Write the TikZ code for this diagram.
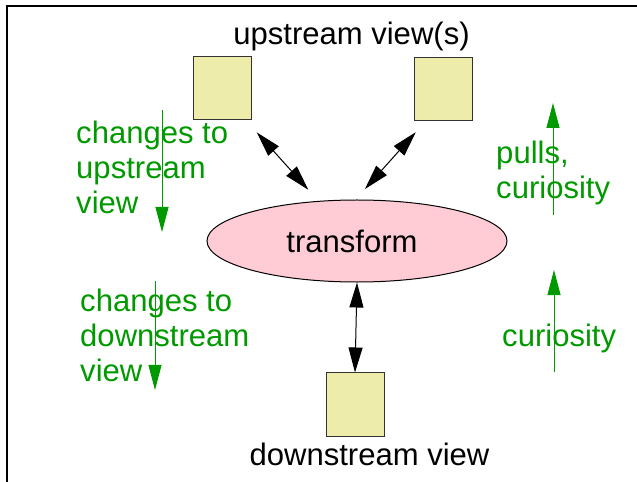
\documentclass[tikz,border=0pt]{standalone}
\usepackage{fontspec}
\setmainfont{Liberation Sans}
\usetikzlibrary{shapes.geometric,arrows.meta}
\definecolor{viewfill}{RGB}{238,236,170}
\definecolor{viewedge}{RGB}{51,51,51}
\definecolor{xformfill}{RGB}{255,204,214}
\definecolor{notegreen}{RGB}{0,153,0}
\begin{document}
\begin{tikzpicture}[x=0.03cm,y=0.03cm,
  view/.style={draw=viewedge,fill=viewfill,line width=0.03cm,minimum width=1.74cm,minimum height=1.89cm},
  xform/.style={ellipse,draw=black,fill=xformfill,line width=0.03cm,minimum width=9cm,minimum height=2.46cm},
  txt/.style={font=\fontsize{26.5}{29.9}\selectfont},
  note/.style={txt,text=notegreen,align=left,anchor=north west},
  link/.style={black,line width=0.03cm,{Triangle[length=0.75cm,width=0.42cm]}-{Triangle[length=0.75cm,width=0.42cm]}},
  flow/.style={notegreen,line width=0.03cm,-{Triangle[length=0.75cm,width=0.39cm]}}]
\tikzstyle{every node}+=[inner sep=0pt]
\useasboundingbox (0,0) rectangle (637,-482);
\draw [line width=0.06cm] (7,-482) -- (7,-6) -- (637,-6);
\node [view] (upl) at (222,-88.5) {};
\node [view] (upr) at (443.5,-89) {};
\node [view] (down) at (355,-404.5) {};
\node [xform] (tr) at (357,-241) {};
\node [txt] (trtxt) at (352,-241) {transform};
\node [txt,anchor=base] (uptxt) at (351.5,-45) {upstream view(s)};
\node [txt,anchor=base] (downtxt) at (369.5,-465) {downstream view};
\draw [link,shorten <=0.48cm,shorten >=0.45cm] (upl.307) -- (tr.134);
\draw [link,shorten <=0.45cm,shorten >=0.42cm] (upr.241) -- (tr.92);
\draw [link] (tr.south) -- (down.north);
\node [note] (chup) at (76,-120.8) {changes to\\upstream\\view};
\node [note] (chdown) at (80,-288.8) {changes to\\downstream\\view};
\node [note] (pulls) at (496,-140.8) {pulls,\\curiosity};
\node [txt,text=notegreen,anchor=base west] (cur) at (502,-346) {curiosity};
\coordinate (c1a) at (162,-110);
\coordinate (c1b) at (162,-232);
\coordinate (c2a) at (155,-281);
\coordinate (c2b) at (155,-390);
\coordinate (p1a) at (553,-215);
\coordinate (p1b) at (553,-103);
\coordinate (p2a) at (554,-372);
\coordinate (p2b) at (554,-270);
\draw [flow] (c1a) -- (c1b);
\draw [flow] (c2a) -- (c2b);
\draw [flow] (p1a) -- (p1b);
\draw [flow] (p2a) -- (p2b);
\end{tikzpicture}
\end{document}
